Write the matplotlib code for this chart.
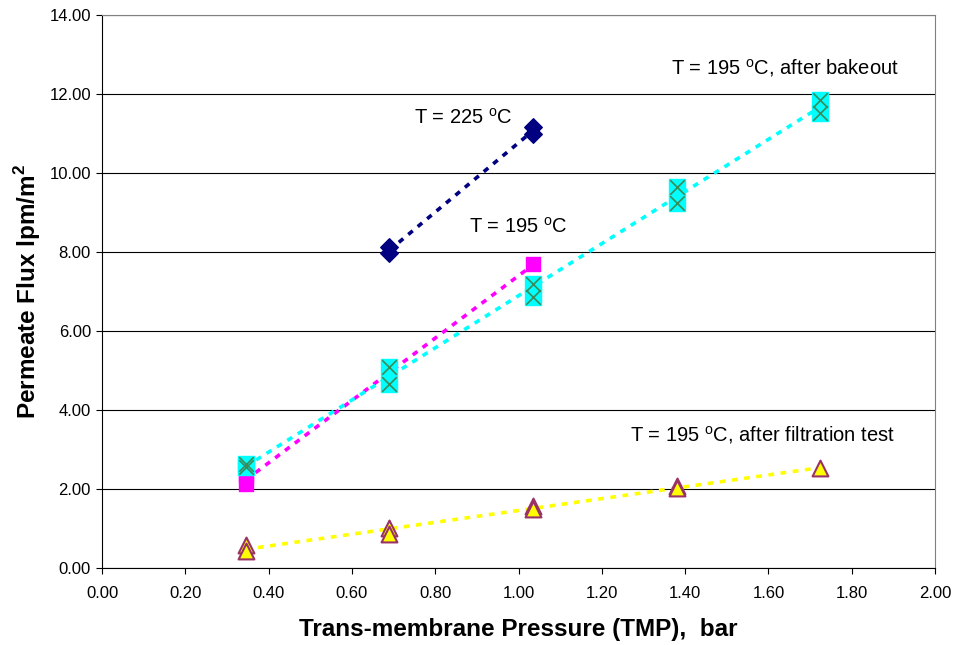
import numpy as np
import matplotlib
matplotlib.use("Agg")
from matplotlib import pyplot as plt

# 数据
x225 = [0.69, 0.69, 1.035, 1.035]
y225 = [8.12, 7.97, 11.16, 10.98]

x195 = [0.345, 0.345, 0.69, 1.035]
y195 = [2.13, 2.35, 4.90, 7.70]

x_bake = [0.345, 0.345, 0.69, 0.69, 1.035, 1.035, 1.38, 1.38, 1.725, 1.725]
y_bake = [2.55, 2.62, 5.10, 4.66, 7.18, 6.86, 9.65, 9.24, 11.85, 11.52]

x_filt = [0.345, 0.345, 0.69, 0.69, 1.035, 1.035, 1.38, 1.38, 1.725]
y_filt = [0.58, 0.42, 1.02, 0.85, 1.56, 1.50, 2.07, 2.02, 2.52]

plt.rcParams['font.family'] = ['Liberation Sans', 'DejaVu Sans']
plt.rcParams['mathtext.fontset'] = 'custom'
plt.rcParams['mathtext.rm'] = 'Liberation Sans'
plt.rcParams['mathtext.bf'] = 'Liberation Sans:bold'

fig = plt.figure(figsize=(9.57, 6.45), dpi=100)
ax = fig.add_axes([0.1066, 0.1194, 0.8704, 0.8574])


def trend(x, y, color):
    k, b = np.polyfit(x, y, 1)
    xs = np.array([min(x), max(x)])
    ax.plot(xs, k * xs + b, color=color, lw=2.6, dashes=(1.6, 1.8), zorder=2)


trend(x225, y225, '#000080')
trend(x195, y195, '#FF00FF')
trend(x_bake, y_bake, '#00FFFF')
trend(x_filt, y_filt, '#FFFF00')

ax.scatter(x225, y225, marker='D', s=80, color='#000080', zorder=3)
ax.scatter(x195, y195, marker='s', s=110, color='#FF00FF', zorder=3)
ax.scatter(x_bake, y_bake, marker='s', s=130, color='#00FFFF', zorder=4)
ax.scatter(x_bake, y_bake, marker='x', s=110, color='#3A8A5A', linewidths=1.2, zorder=5)
ax.scatter(x_filt, y_filt, marker='^', s=130, facecolor='#FFFF00', edgecolor='#993366',
           linewidths=1.5, zorder=3)

# 注释
ax.text(0.748, 11.4, r'T = 225 $^{\rm o}$C', fontsize=14.5, va='center')
ax.text(0.88, 8.63, r'T = 195 $^{\rm o}$C', fontsize=14.5, va='center')
ax.text(1.365, 12.66, r'T = 195 $^{\rm o}$C, after bakeout', fontsize=14.5, va='center')
ax.text(1.268, 3.37, r'T = 195 $^{\rm o}$C, after filtration test', fontsize=14.5, va='center')

ax.set_xlim(0, 2)
ax.set_ylim(0, 14)
ax.set_xticks(np.arange(0, 2.01, 0.2))
ax.set_yticks(np.arange(0, 14.01, 2))
ax.xaxis.set_major_formatter(matplotlib.ticker.FormatStrFormatter('%.2f'))
ax.yaxis.set_major_formatter(matplotlib.ticker.FormatStrFormatter('%.2f'))
ax.tick_params(labelsize=12, length=4, width=0.8, direction='out')
ax.tick_params(axis='x', pad=9)
ax.tick_params(axis='y', pad=4)
ax.grid(axis='y', color='black', lw=0.8)
ax.set_axisbelow(True)
for s in ax.spines.values():
    s.set_color('#808080')
    s.set_linewidth(0.8)
ax.spines['left'].set_color('black')
ax.spines['bottom'].set_color('black')

ax.set_xlabel('Trans-membrane Pressure (TMP),  bar', fontsize=17.5, fontweight='bold', labelpad=12)
ax.set_ylabel(r'Permeate Flux lpm/m$^{\mathbf{2}}$', fontsize=17.5, fontweight='bold', labelpad=4.5)

fig.savefig('out.png', dpi=100)
